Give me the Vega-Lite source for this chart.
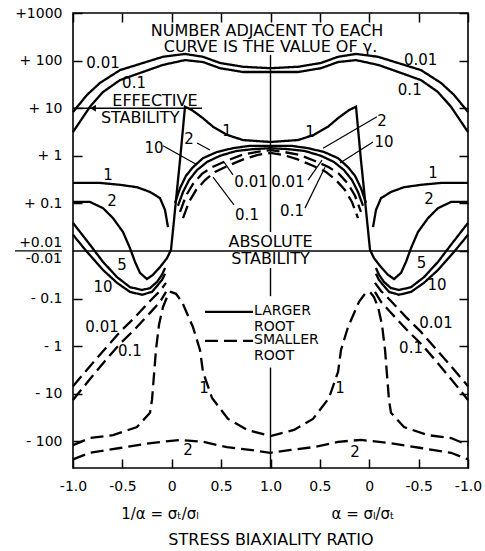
{
"$schema": "https://vega.github.io/schema/vega-lite/v6.json",
"width": 395, "height": 455,
"autosize": "none",
"padding": {"left": 73, "top": 13, "right": 17, "bottom": 83},
"background": "white",
"config": {
  "view": {"stroke": "black", "strokeWidth": 1.6},
  "font": "DejaVu Sans",
  "axis": {"grid": false, "domain": false, "tickColor": "black", "tickWidth": 1.5, "tickSize": -9, "labelColor": "black", "labelFont": "DejaVu Sans", "labelFontSize": 14, "titleFont": "DejaVu Sans", "titleColor": "black", "titleFontWeight": "normal", "labelOverlap": false, "labelBound": false, "labelFlush": false}
},
"datasets": {
"curves": [
{"c":"L0.01","r":"larger","x":-2.0,"y":2.92},{"c":"L0.01","r":"larger","x":-1.858,"y":3.28},{"c":"L0.01","r":"larger","x":-1.727,"y":3.53},{"c":"L0.01","r":"larger","x":-1.524,"y":3.80},{"c":"L0.01","r":"larger","x":-1.322,"y":3.93},{"c":"L0.01","r":"larger","x":-1.089,"y":4.08},{"c":"L0.01","r":"larger","x":-0.866,"y":4.14},{"c":"L0.01","r":"larger","x":-0.684,"y":4.08},{"c":"L0.01","r":"larger","x":-0.511,"y":3.95},{"c":"L0.01","r":"larger","x":-0.278,"y":3.87},{"c":"L0.01","r":"larger","x":0,"y":3.84},{"c":"L0.01","r":"larger","x":0.278,"y":3.87},{"c":"L0.01","r":"larger","x":0.511,"y":3.95},{"c":"L0.01","r":"larger","x":0.684,"y":4.08},{"c":"L0.01","r":"larger","x":0.866,"y":4.14},{"c":"L0.01","r":"larger","x":1.089,"y":4.08},{"c":"L0.01","r":"larger","x":1.322,"y":3.93},{"c":"L0.01","r":"larger","x":1.524,"y":3.80},{"c":"L0.01","r":"larger","x":1.727,"y":3.53},{"c":"L0.01","r":"larger","x":1.858,"y":3.28},{"c":"L0.01","r":"larger","x":2.0,"y":2.92},
{"c":"L0.1","r":"larger","x":-2.0,"y":2.50},{"c":"L0.1","r":"larger","x":-1.828,"y":3.03},{"c":"L0.1","r":"larger","x":-1.696,"y":3.34},{"c":"L0.1","r":"larger","x":-1.524,"y":3.59},{"c":"L0.1","r":"larger","x":-1.322,"y":3.74},{"c":"L0.1","r":"larger","x":-1.089,"y":3.91},{"c":"L0.1","r":"larger","x":-0.866,"y":4.01},{"c":"L0.1","r":"larger","x":-0.684,"y":3.97},{"c":"L0.1","r":"larger","x":-0.511,"y":3.84},{"c":"L0.1","r":"larger","x":-0.278,"y":3.76},{"c":"L0.1","r":"larger","x":0,"y":3.76},{"c":"L0.1","r":"larger","x":0.278,"y":3.76},{"c":"L0.1","r":"larger","x":0.511,"y":3.84},{"c":"L0.1","r":"larger","x":0.684,"y":3.97},{"c":"L0.1","r":"larger","x":0.866,"y":4.01},{"c":"L0.1","r":"larger","x":1.089,"y":3.91},{"c":"L0.1","r":"larger","x":1.322,"y":3.74},{"c":"L0.1","r":"larger","x":1.524,"y":3.59},{"c":"L0.1","r":"larger","x":1.696,"y":3.34},{"c":"L0.1","r":"larger","x":1.828,"y":3.03},{"c":"L0.1","r":"larger","x":2.0,"y":2.50},
{"c":"L1a-L","r":"larger","x":-2.0,"y":1.43},{"c":"L1a-L","r":"larger","x":-1.727,"y":1.43},{"c":"L1a-L","r":"larger","x":-1.524,"y":1.39},{"c":"L1a-L","r":"larger","x":-1.352,"y":1.34},{"c":"L1a-L","r":"larger","x":-1.22,"y":1.24},{"c":"L1a-L","r":"larger","x":-1.119,"y":1.11},{"c":"L1a-L","r":"larger","x":-1.068,"y":0.86},{"c":"L1a-L","r":"larger","x":-1.038,"y":0.50},
{"c":"L1a-R","r":"larger","x":1.038,"y":0.50},{"c":"L1a-R","r":"larger","x":1.068,"y":0.86},{"c":"L1a-R","r":"larger","x":1.119,"y":1.11},{"c":"L1a-R","r":"larger","x":1.22,"y":1.24},{"c":"L1a-R","r":"larger","x":1.352,"y":1.34},{"c":"L1a-R","r":"larger","x":1.524,"y":1.39},{"c":"L1a-R","r":"larger","x":1.727,"y":1.43},{"c":"L1a-R","r":"larger","x":2.0,"y":1.43},
{"c":"L1b","r":"larger","x":-1.008,"y":0.02},{"c":"L1b","r":"larger","x":-0.977,"y":0.65},{"c":"L1b","r":"larger","x":-0.947,"y":1.28},{"c":"L1b","r":"larger","x":-0.916,"y":1.91},{"c":"L1b","r":"larger","x":-0.886,"y":2.58},{"c":"L1b","r":"larger","x":-0.866,"y":3.03},{"c":"L1b","r":"larger","x":-0.795,"y":2.96},{"c":"L1b","r":"larger","x":-0.684,"y":2.79},{"c":"L1b","r":"larger","x":-0.582,"y":2.61},{"c":"L1b","r":"larger","x":-0.441,"y":2.44},{"c":"L1b","r":"larger","x":-0.278,"y":2.33},{"c":"L1b","r":"larger","x":0,"y":2.29},{"c":"L1b","r":"larger","x":0.278,"y":2.33},{"c":"L1b","r":"larger","x":0.441,"y":2.44},{"c":"L1b","r":"larger","x":0.582,"y":2.61},{"c":"L1b","r":"larger","x":0.684,"y":2.79},{"c":"L1b","r":"larger","x":0.795,"y":2.96},{"c":"L1b","r":"larger","x":0.866,"y":3.03},{"c":"L1b","r":"larger","x":0.886,"y":2.58},{"c":"L1b","r":"larger","x":0.916,"y":1.91},{"c":"L1b","r":"larger","x":0.947,"y":1.28},{"c":"L1b","r":"larger","x":0.977,"y":0.65},{"c":"L1b","r":"larger","x":1.008,"y":0.02},
{"c":"L2a-L","r":"larger","x":-2.0,"y":1.03},{"c":"L2a-L","r":"larger","x":-1.828,"y":1.03},{"c":"L2a-L","r":"larger","x":-1.696,"y":0.90},{"c":"L2a-L","r":"larger","x":-1.595,"y":0.69},{"c":"L2a-L","r":"larger","x":-1.494,"y":0.40},{"c":"L2a-L","r":"larger","x":-1.423,"y":0.06},{"c":"L2a-L","r":"larger","x":-1.372,"y":-0.23},{"c":"L2a-L","r":"larger","x":-1.322,"y":-0.46},{"c":"L2a-L","r":"larger","x":-1.251,"y":-0.59},{"c":"L2a-L","r":"larger","x":-1.19,"y":-0.50},{"c":"L2a-L","r":"larger","x":-1.119,"y":-0.34},{"c":"L2a-L","r":"larger","x":-1.048,"y":-0.15},{"c":"L2a-L","r":"larger","x":-1.008,"y":0.02},
{"c":"L2a-R","r":"larger","x":1.008,"y":0.02},{"c":"L2a-R","r":"larger","x":1.048,"y":-0.15},{"c":"L2a-R","r":"larger","x":1.119,"y":-0.34},{"c":"L2a-R","r":"larger","x":1.19,"y":-0.50},{"c":"L2a-R","r":"larger","x":1.251,"y":-0.59},{"c":"L2a-R","r":"larger","x":1.322,"y":-0.46},{"c":"L2a-R","r":"larger","x":1.372,"y":-0.23},{"c":"L2a-R","r":"larger","x":1.423,"y":0.06},{"c":"L2a-R","r":"larger","x":1.494,"y":0.40},{"c":"L2a-R","r":"larger","x":1.595,"y":0.69},{"c":"L2a-R","r":"larger","x":1.696,"y":0.90},{"c":"L2a-R","r":"larger","x":1.828,"y":1.03},{"c":"L2a-R","r":"larger","x":2.0,"y":1.03},
{"c":"L2b","r":"larger","x":-0.967,"y":1.01},{"c":"L2b","r":"larger","x":-0.916,"y":1.32},{"c":"L2b","r":"larger","x":-0.856,"y":1.58},{"c":"L2b","r":"larger","x":-0.785,"y":1.76},{"c":"L2b","r":"larger","x":-0.684,"y":1.95},{"c":"L2b","r":"larger","x":-0.542,"y":2.08},{"c":"L2b","r":"larger","x":-0.38,"y":2.16},{"c":"L2b","r":"larger","x":-0.208,"y":2.21},{"c":"L2b","r":"larger","x":0,"y":2.21},{"c":"L2b","r":"larger","x":0.208,"y":2.21},{"c":"L2b","r":"larger","x":0.38,"y":2.16},{"c":"L2b","r":"larger","x":0.542,"y":2.08},{"c":"L2b","r":"larger","x":0.684,"y":1.95},{"c":"L2b","r":"larger","x":0.785,"y":1.76},{"c":"L2b","r":"larger","x":0.856,"y":1.58},{"c":"L2b","r":"larger","x":0.916,"y":1.32},{"c":"L2b","r":"larger","x":0.967,"y":1.01},
{"c":"L10b","r":"larger","x":-0.937,"y":0.95},{"c":"L10b","r":"larger","x":-0.886,"y":1.24},{"c":"L10b","r":"larger","x":-0.825,"y":1.49},{"c":"L10b","r":"larger","x":-0.744,"y":1.70},{"c":"L10b","r":"larger","x":-0.643,"y":1.87},{"c":"L10b","r":"larger","x":-0.511,"y":2.00},{"c":"L10b","r":"larger","x":-0.349,"y":2.10},{"c":"L10b","r":"larger","x":-0.177,"y":2.14},{"c":"L10b","r":"larger","x":0,"y":2.16},{"c":"L10b","r":"larger","x":0.177,"y":2.14},{"c":"L10b","r":"larger","x":0.349,"y":2.10},{"c":"L10b","r":"larger","x":0.511,"y":2.00},{"c":"L10b","r":"larger","x":0.643,"y":1.87},{"c":"L10b","r":"larger","x":0.744,"y":1.70},{"c":"L10b","r":"larger","x":0.825,"y":1.49},{"c":"L10b","r":"larger","x":0.886,"y":1.24},{"c":"L10b","r":"larger","x":0.937,"y":0.95},
{"c":"L5-L","r":"larger","x":-2.0,"y":0.59},{"c":"L5-L","r":"larger","x":-1.828,"y":0.13},{"c":"L5-L","r":"larger","x":-1.696,"y":-0.23},{"c":"L5-L","r":"larger","x":-1.554,"y":-0.55},{"c":"L5-L","r":"larger","x":-1.423,"y":-0.76},{"c":"L5-L","r":"larger","x":-1.301,"y":-0.82},{"c":"L5-L","r":"larger","x":-1.22,"y":-0.78},{"c":"L5-L","r":"larger","x":-1.149,"y":-0.65},{"c":"L5-L","r":"larger","x":-1.099,"y":-0.50},{"c":"L5-L","r":"larger","x":-1.068,"y":-0.36},
{"c":"L5-R","r":"larger","x":1.068,"y":-0.36},{"c":"L5-R","r":"larger","x":1.099,"y":-0.50},{"c":"L5-R","r":"larger","x":1.149,"y":-0.65},{"c":"L5-R","r":"larger","x":1.22,"y":-0.78},{"c":"L5-R","r":"larger","x":1.301,"y":-0.82},{"c":"L5-R","r":"larger","x":1.423,"y":-0.76},{"c":"L5-R","r":"larger","x":1.554,"y":-0.55},{"c":"L5-R","r":"larger","x":1.696,"y":-0.23},{"c":"L5-R","r":"larger","x":1.828,"y":0.13},{"c":"L5-R","r":"larger","x":2.0,"y":0.59},
{"c":"L10-L","r":"larger","x":-2.0,"y":0.34},{"c":"L10-L","r":"larger","x":-1.858,"y":-0.02},{"c":"L10-L","r":"larger","x":-1.696,"y":-0.40},{"c":"L10-L","r":"larger","x":-1.554,"y":-0.67},{"c":"L10-L","r":"larger","x":-1.423,"y":-0.86},{"c":"L10-L","r":"larger","x":-1.301,"y":-0.92},{"c":"L10-L","r":"larger","x":-1.2,"y":-0.86},{"c":"L10-L","r":"larger","x":-1.139,"y":-0.71},{"c":"L10-L","r":"larger","x":-1.099,"y":-0.61},{"c":"L10-L","r":"larger","x":-1.068,"y":-0.48},
{"c":"L10-R","r":"larger","x":1.068,"y":-0.48},{"c":"L10-R","r":"larger","x":1.099,"y":-0.61},{"c":"L10-R","r":"larger","x":1.139,"y":-0.71},{"c":"L10-R","r":"larger","x":1.2,"y":-0.86},{"c":"L10-R","r":"larger","x":1.301,"y":-0.92},{"c":"L10-R","r":"larger","x":1.423,"y":-0.86},{"c":"L10-R","r":"larger","x":1.554,"y":-0.67},{"c":"L10-R","r":"larger","x":1.696,"y":-0.40},{"c":"L10-R","r":"larger","x":1.858,"y":-0.02},{"c":"L10-R","r":"larger","x":2.0,"y":0.34},
{"c":"S0.01b","r":"smaller","x":-0.916,"y":0.82},{"c":"S0.01b","r":"smaller","x":-0.856,"y":1.16},{"c":"S0.01b","r":"smaller","x":-0.785,"y":1.41},{"c":"S0.01b","r":"smaller","x":-0.694,"y":1.62},{"c":"S0.01b","r":"smaller","x":-0.592,"y":1.76},{"c":"S0.01b","r":"smaller","x":-0.451,"y":1.89},{"c":"S0.01b","r":"smaller","x":-0.289,"y":2.02},{"c":"S0.01b","r":"smaller","x":-0.137,"y":2.08},{"c":"S0.01b","r":"smaller","x":0,"y":2.12},{"c":"S0.01b","r":"smaller","x":0.137,"y":2.08},{"c":"S0.01b","r":"smaller","x":0.289,"y":2.02},{"c":"S0.01b","r":"smaller","x":0.451,"y":1.89},{"c":"S0.01b","r":"smaller","x":0.592,"y":1.76},{"c":"S0.01b","r":"smaller","x":0.694,"y":1.62},{"c":"S0.01b","r":"smaller","x":0.785,"y":1.41},{"c":"S0.01b","r":"smaller","x":0.856,"y":1.16},{"c":"S0.01b","r":"smaller","x":0.916,"y":0.82},
{"c":"S0.1b","r":"smaller","x":-0.886,"y":0.69},{"c":"S0.1b","r":"smaller","x":-0.825,"y":1.03},{"c":"S0.1b","r":"smaller","x":-0.754,"y":1.28},{"c":"S0.1b","r":"smaller","x":-0.663,"y":1.49},{"c":"S0.1b","r":"smaller","x":-0.562,"y":1.66},{"c":"S0.1b","r":"smaller","x":-0.43,"y":1.79},{"c":"S0.1b","r":"smaller","x":-0.268,"y":1.93},{"c":"S0.1b","r":"smaller","x":-0.127,"y":2.02},{"c":"S0.1b","r":"smaller","x":0,"y":2.06},{"c":"S0.1b","r":"smaller","x":0.127,"y":2.02},{"c":"S0.1b","r":"smaller","x":0.268,"y":1.93},{"c":"S0.1b","r":"smaller","x":0.43,"y":1.79},{"c":"S0.1b","r":"smaller","x":0.562,"y":1.66},{"c":"S0.1b","r":"smaller","x":0.663,"y":1.49},{"c":"S0.1b","r":"smaller","x":0.754,"y":1.28},{"c":"S0.1b","r":"smaller","x":0.825,"y":1.03},{"c":"S0.1b","r":"smaller","x":0.886,"y":0.69},
{"c":"S0.01-L","r":"smaller","x":-2.0,"y":-2.84},{"c":"S0.01-L","r":"smaller","x":-1.828,"y":-2.42},{"c":"S0.01-L","r":"smaller","x":-1.676,"y":-2.06},{"c":"S0.01-L","r":"smaller","x":-1.524,"y":-1.70},{"c":"S0.01-L","r":"smaller","x":-1.372,"y":-1.39},{"c":"S0.01-L","r":"smaller","x":-1.22,"y":-1.05},{"c":"S0.01-L","r":"smaller","x":-1.119,"y":-0.84},{"c":"S0.01-L","r":"smaller","x":-1.058,"y":-0.67},
{"c":"S0.01-R","r":"smaller","x":1.058,"y":-0.67},{"c":"S0.01-R","r":"smaller","x":1.119,"y":-0.84},{"c":"S0.01-R","r":"smaller","x":1.22,"y":-1.05},{"c":"S0.01-R","r":"smaller","x":1.372,"y":-1.39},{"c":"S0.01-R","r":"smaller","x":1.524,"y":-1.70},{"c":"S0.01-R","r":"smaller","x":1.676,"y":-2.06},{"c":"S0.01-R","r":"smaller","x":1.828,"y":-2.42},{"c":"S0.01-R","r":"smaller","x":2.0,"y":-2.84},
{"c":"S0.1-L","r":"smaller","x":-2.0,"y":-3.13},{"c":"S0.1-L","r":"smaller","x":-1.828,"y":-2.69},{"c":"S0.1-L","r":"smaller","x":-1.676,"y":-2.31},{"c":"S0.1-L","r":"smaller","x":-1.524,"y":-1.95},{"c":"S0.1-L","r":"smaller","x":-1.372,"y":-1.64},{"c":"S0.1-L","r":"smaller","x":-1.22,"y":-1.30},{"c":"S0.1-L","r":"smaller","x":-1.119,"y":-1.07},{"c":"S0.1-L","r":"smaller","x":-1.058,"y":-0.86},
{"c":"S0.1-R","r":"smaller","x":1.058,"y":-0.86},{"c":"S0.1-R","r":"smaller","x":1.119,"y":-1.07},{"c":"S0.1-R","r":"smaller","x":1.22,"y":-1.30},{"c":"S0.1-R","r":"smaller","x":1.372,"y":-1.64},{"c":"S0.1-R","r":"smaller","x":1.524,"y":-1.95},{"c":"S0.1-R","r":"smaller","x":1.676,"y":-2.31},{"c":"S0.1-R","r":"smaller","x":1.828,"y":-2.69},{"c":"S0.1-R","r":"smaller","x":2.0,"y":-3.13},
{"c":"S1","r":"smaller","x":-2.0,"y":-4.08},{"c":"S1","r":"smaller","x":-1.828,"y":-3.93},{"c":"S1","r":"smaller","x":-1.595,"y":-3.87},{"c":"S1","r":"smaller","x":-1.352,"y":-3.70},{"c":"S1","r":"smaller","x":-1.22,"y":-3.40},{"c":"S1","r":"smaller","x":-1.2,"y":-3.13},{"c":"S1","r":"smaller","x":-1.18,"y":-2.61},{"c":"S1","r":"smaller","x":-1.16,"y":-2.08},{"c":"S1","r":"smaller","x":-1.129,"y":-1.55},{"c":"S1","r":"smaller","x":-1.089,"y":-1.18},{"c":"S1","r":"smaller","x":-1.048,"y":-0.97},{"c":"S1","r":"smaller","x":-1.008,"y":-0.86},{"c":"S1","r":"smaller","x":-0.957,"y":-0.90},{"c":"S1","r":"smaller","x":-0.896,"y":-1.07},{"c":"S1","r":"smaller","x":-0.785,"y":-1.60},{"c":"S1","r":"smaller","x":-0.714,"y":-2.08},{"c":"S1","r":"smaller","x":-0.684,"y":-2.54},{"c":"S1","r":"smaller","x":-0.592,"y":-3.09},{"c":"S1","r":"smaller","x":-0.43,"y":-3.53},{"c":"S1","r":"smaller","x":-0.238,"y":-3.76},{"c":"S1","r":"smaller","x":0,"y":-3.89},
{"c":"S1","r":"smaller","x":0.238,"y":-3.76},{"c":"S1","r":"smaller","x":0.43,"y":-3.53},{"c":"S1","r":"smaller","x":0.592,"y":-3.09},{"c":"S1","r":"smaller","x":0.684,"y":-2.54},{"c":"S1","r":"smaller","x":0.714,"y":-2.08},{"c":"S1","r":"smaller","x":0.785,"y":-1.60},{"c":"S1","r":"smaller","x":0.896,"y":-1.07},{"c":"S1","r":"smaller","x":0.957,"y":-0.90},{"c":"S1","r":"smaller","x":1.008,"y":-0.86},{"c":"S1","r":"smaller","x":1.048,"y":-0.97},{"c":"S1","r":"smaller","x":1.089,"y":-1.18},{"c":"S1","r":"smaller","x":1.129,"y":-1.55},{"c":"S1","r":"smaller","x":1.16,"y":-2.08},{"c":"S1","r":"smaller","x":1.18,"y":-2.61},{"c":"S1","r":"smaller","x":1.2,"y":-3.13},{"c":"S1","r":"smaller","x":1.22,"y":-3.40},{"c":"S1","r":"smaller","x":1.352,"y":-3.70},{"c":"S1","r":"smaller","x":1.595,"y":-3.87},{"c":"S1","r":"smaller","x":1.828,"y":-3.93},{"c":"S1","r":"smaller","x":2.0,"y":-4.08},
{"c":"S2","r":"smaller","x":-2.0,"y":-4.38},{"c":"S2","r":"smaller","x":-1.828,"y":-4.24},{"c":"S2","r":"smaller","x":-1.524,"y":-4.14},{"c":"S2","r":"smaller","x":-1.19,"y":-4.03},{"c":"S2","r":"smaller","x":-0.916,"y":-3.97},{"c":"S2","r":"smaller","x":-0.684,"y":-4.01},{"c":"S2","r":"smaller","x":-0.441,"y":-4.12},{"c":"S2","r":"smaller","x":-0.208,"y":-4.18},{"c":"S2","r":"smaller","x":0,"y":-4.24},{"c":"S2","r":"smaller","x":0.208,"y":-4.18},{"c":"S2","r":"smaller","x":0.441,"y":-4.12},{"c":"S2","r":"smaller","x":0.684,"y":-4.01},{"c":"S2","r":"smaller","x":0.916,"y":-3.97},{"c":"S2","r":"smaller","x":1.19,"y":-4.03},{"c":"S2","r":"smaller","x":1.524,"y":-4.14},{"c":"S2","r":"smaller","x":1.828,"y":-4.24},{"c":"S2","r":"smaller","x":2.0,"y":-4.38}
],
"center": [{"x":0,"y":4.12,"y2":0.40},{"x":0,"y":-0.36,"y2":-0.95},{"x":0,"y":-2.45,"y2":-4.56}],
"arrows": [
{"x":-1.089,"y":2.21,"x2":-0.744,"y2":1.81},{"x":-0.744,"y":2.27,"x2":-0.613,"y2":2.12},{"x":-0.38,"y":1.60,"x2":-0.471,"y2":1.87},{"x":-0.37,"y":0.97,"x2":-0.582,"y2":1.55},
{"x":1.078,"y":2.82,"x2":0.532,"y2":2.16},{"x":1.038,"y":2.29,"x2":0.704,"y2":1.85},{"x":0.38,"y":1.49,"x2":0.522,"y2":1.91},{"x":0.349,"y":0.90,"x2":0.552,"y2":1.76}
],
"notes": [
{"t":"EFFECTIVE","x":-1.17,"y":3.15},{"t":"STABILITY","x":-1.32,"y":2.80},{"t":"ABSOLUTE","x":0,"y":0.19},{"t":"STABILITY","x":0,"y":-0.16}
],
"title": [{"t":"NUMBER ADJACENT TO EACH","x":-0.035,"y":4.63},{"t":"CURVE IS THE VALUE OF γ.","x":0,"y":4.28}],
"labels": [
{"t":"0.01","x":-1.696,"y":3.95},{"t":"0.01","x":1.52,"y":4.01},{"t":"0.1","x":-1.382,"y":3.53},{"t":"0.1","x":1.41,"y":3.38},
{"t":"1","x":-0.44,"y":2.52},{"t":"1","x":0.40,"y":2.50},{"t":"2","x":-0.825,"y":2.35},{"t":"2","x":1.129,"y":2.73},
{"t":"10","x":-1.18,"y":2.16},{"t":"10","x":1.149,"y":2.29},{"t":"0.01","x":-0.197,"y":1.45},{"t":"0.01","x":0.177,"y":1.45},
{"t":"0.1","x":-0.238,"y":0.76},{"t":"0.1","x":0.218,"y":0.84},{"t":"1","x":-1.645,"y":1.60},{"t":"1","x":1.645,"y":1.64},
{"t":"2","x":-1.605,"y":1.05},{"t":"2","x":1.605,"y":1.09},{"t":"5","x":-1.504,"y":-0.29},{"t":"5","x":1.53,"y":-0.25},
{"t":"10","x":-1.696,"y":-0.76},{"t":"10","x":1.686,"y":-0.71},{"t":"0.01","x":-1.706,"y":-1.60},{"t":"0.01","x":1.676,"y":-1.51},
{"t":"0.1","x":-1.423,"y":-2.10},{"t":"0.1","x":1.423,"y":-2.04},{"t":"1","x":-0.673,"y":-2.88},{"t":"1","x":0.704,"y":-2.88},
{"t":"2","x":-0.835,"y":-4.18},{"t":"2","x":0.856,"y":-4.22}
],
"legend_lines": [{"r":"larger","x":-0.663,"x2":-0.177,"y":-1.28},{"r":"smaller","x":-0.663,"x2":-0.177,"y":-1.89}],
"legend_text": [{"t":"LARGER","x":-0.167,"y":-1.27},{"t":"ROOT","x":-0.167,"y":-1.60},{"t":"SMALLER","x":-0.167,"y":-1.88},{"t":"ROOT","x":-0.167,"y":-2.21}],
"effective": [{"x":-2.0,"x2":-0.694,"y":3.0}],
"effective_head": [{"x":-1.797,"y":3.0}],
"underline": [{"x":-2.587,"x2":-2.111,"y":0}],
"zero_labels": [{"t":"+0.01","x":-2.111,"y":0.17},{"t":"-0.01","x":-2.111,"y":-0.16}],
"formula": [{"t":"1/α = σₜ/σₗ","x":-1.119,"y":-5.53},{"t":"α = σₗ/σₜ","x":0.937,"y":-5.53}]
},
"resolve": {"axis": {"x": "independent", "y": "independent"}},
"layer": [
{
 "data": {"name": "center"},
 "mark": {"type": "rule", "color": "black", "strokeWidth": 1.4},
 "encoding": {
  "x": {"field": "x", "type": "quantitative", "scale": {"domain": [-2, 2], "nice": false, "zero": false}, "axis": {"orient": "top", "values": [-2,-1.5,-1,-0.5,0,0.5,1,1.5,2], "labels": false, "title": null}},
  "y": {"field": "y", "type": "quantitative", "scale": {"domain": [-4.56, 5], "nice": false, "zero": false}, "axis": {"orient": "right", "values": [-4,-3,-2,-1,0,1,2,3,4,5], "labels": false, "title": null}},
  "y2": {"field": "y2"}
 }
},
{
 "data": {"values": [{}]},
 "mark": {"type": "rule", "color": "black", "strokeWidth": 1.4},
 "encoding": {"y": {"datum": 0, "type": "quantitative", "axis": null}}
},
{
 "data": {"name": "effective"},
 "mark": {"type": "rule", "color": "black", "strokeWidth": 1.4},
 "encoding": {"x": {"field": "x", "type": "quantitative", "axis": null}, "x2": {"field": "x2"}, "y": {"field": "y", "type": "quantitative", "axis": null}}
},
{
 "data": {"name": "effective_head"},
 "mark": {"type": "point", "shape": "triangle-left", "filled": true, "color": "black", "size": 45, "opacity": 1},
 "encoding": {"x": {"field": "x", "type": "quantitative", "axis": null}, "y": {"field": "y", "type": "quantitative", "axis": null}}
},
{
 "data": {"name": "underline"},
 "mark": {"type": "rule", "color": "black", "strokeWidth": 1.3},
 "encoding": {"x": {"field": "x", "type": "quantitative", "axis": null}, "x2": {"field": "x2"}, "y": {"field": "y", "type": "quantitative", "axis": null}}
},
{
 "data": {"name": "zero_labels"},
 "mark": {"type": "text", "align": "right", "baseline": "middle", "fontSize": 14, "font": "DejaVu Sans", "color": "black"},
 "encoding": {"x": {"field": "x", "type": "quantitative", "axis": null}, "y": {"field": "y", "type": "quantitative", "axis": null}, "text": {"field": "t"}}
},
{
 "data": {"name": "arrows"},
 "mark": {"type": "rule", "color": "black", "strokeWidth": 1.2},
 "encoding": {"x": {"field": "x", "type": "quantitative", "axis": null}, "x2": {"field": "x2"}, "y": {"field": "y", "type": "quantitative", "axis": null}, "y2": {"field": "y2"}}
},
{
 "data": {"name": "curves"},
 "mark": {"type": "line", "color": "black", "strokeWidth": 2.3},
 "encoding": {
  "x": {"field": "x", "type": "quantitative", "axis": {"orient": "bottom", "values": [-2,-1.5,-1,-0.5,0,0.5,1,1.5,2], "labelExpr": "['-1.0','-0.5','0','0.5','1.0','0.5','0','-0.5','-1.0'][round(datum.value*2+4)]", "labelPadding": 20, "title": "STRESS BIAXIALITY RATIO", "titleFontSize": 16, "titlePadding": 38}},
  "y": {"field": "y", "type": "quantitative", "axis": {"orient": "left", "values": [-4,-3,-2,-1,1,2,3,4,5], "labelExpr": "['- 100','- 10','- 1','- 0.1','','+ 0.1','+ 1','+ 10','+ 100','+1000'][datum.value+4]", "labelPadding": 20, "title": null}},
  "detail": {"field": "c", "type": "nominal"},
  "strokeDash": {"field": "r", "type": "nominal", "scale": {"domain": ["larger", "smaller"], "range": [[1, 0], [13, 6]]}, "legend": null}
 }
},
{
 "data": {"name": "legend_lines"},
 "mark": {"type": "rule", "color": "black", "strokeWidth": 2.3},
 "encoding": {"x": {"field": "x", "type": "quantitative", "axis": null}, "x2": {"field": "x2"}, "y": {"field": "y", "type": "quantitative", "axis": null},
  "strokeDash": {"field": "r", "type": "nominal", "scale": {"domain": ["larger", "smaller"], "range": [[1, 0], [13, 6]]}, "legend": null}}
},
{
 "data": {"name": "legend_text"},
 "mark": {"type": "text", "align": "left", "baseline": "middle", "fontSize": 14, "font": "DejaVu Sans", "color": "black"},
 "encoding": {"x": {"field": "x", "type": "quantitative", "axis": null}, "y": {"field": "y", "type": "quantitative", "axis": null}, "text": {"field": "t"}}
},
{
 "data": {"name": "notes"},
 "mark": {"type": "text", "align": "center", "baseline": "middle", "fontSize": 16, "font": "DejaVu Sans", "color": "black"},
 "encoding": {"x": {"field": "x", "type": "quantitative", "axis": null}, "y": {"field": "y", "type": "quantitative", "axis": null}, "text": {"field": "t"}}
},
{
 "data": {"name": "title"},
 "mark": {"type": "text", "align": "center", "baseline": "middle", "fontSize": 16, "font": "DejaVu Sans", "color": "black"},
 "encoding": {"x": {"field": "x", "type": "quantitative", "axis": null}, "y": {"field": "y", "type": "quantitative", "axis": null}, "text": {"field": "t"}}
},
{
 "data": {"name": "labels"},
 "mark": {"type": "text", "align": "center", "baseline": "middle", "fontSize": 15, "font": "DejaVu Sans", "color": "black"},
 "encoding": {"x": {"field": "x", "type": "quantitative", "axis": null}, "y": {"field": "y", "type": "quantitative", "axis": null}, "text": {"field": "t"}}
},
{
 "data": {"name": "formula"},
 "mark": {"type": "text", "align": "center", "baseline": "middle", "fontSize": 15, "font": "DejaVu Sans", "color": "black"},
 "encoding": {"x": {"field": "x", "type": "quantitative", "axis": null}, "y": {"field": "y", "type": "quantitative", "axis": null}, "text": {"field": "t"}}
}
]
}
